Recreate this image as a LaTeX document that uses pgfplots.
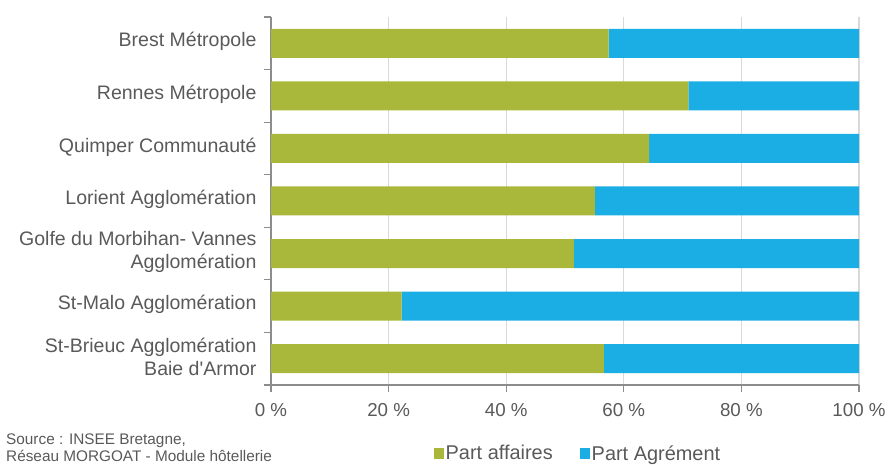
\documentclass[border=0pt]{standalone}
\usepackage{fontspec}
\setmainfont{Liberation Sans}
\usepackage{pgfplots}
\pgfplotsset{compat=1.18}
\definecolor{cgreen}{HTML}{A9B73A}
\definecolor{cblue}{HTML}{1BAEE5}
\definecolor{ctext}{HTML}{595959}
\definecolor{caxis}{HTML}{8C8C8C}
\definecolor{cgrid}{HTML}{D9D9D9}
\begin{document}
\begin{tikzpicture}[x=1bp,y=1bp]
\useasboundingbox (0,0) rectangle (889,466);
\begin{axis}[
  at={(271bp,81bp)}, anchor=south west,
  scale only axis, width=588bp, height=368bp,
  xbar stacked, bar width=29bp,
  xmin=0, xmax=100, ymin=-0.5, ymax=6.5, y dir=reverse,
  axis x line*=bottom, axis y line*=left,
  axis line style={draw=caxis, line width=1.2bp, -},
  tick align=outside, major tick length=7bp,
  tick style={draw=caxis, line width=1.2bp},
  xtick={0,20,40,60,80,100},
  xticklabels={0 \%,20 \%,40 \%,60 \%,80 \%,100 \%},
  xticklabel style={font=\fontsize{18.8}{22}\selectfont, text=ctext, yshift=-8bp},
  xmajorgrids, grid style={cgrid, line width=1.2bp},
  ytick={-0.5,0.5,1.5,2.5,3.5,4.5,5.5,6.5}, yticklabels={},
  extra y ticks={0,1,2,3,4,5,6},
  extra y tick labels={Brest Métropole,Rennes Métropole,Quimper Communauté,Lorient Agglomération,{Golfe du Morbihan- Vannes\\Agglomération},St-Malo Agglomération,{St-Brieuc Agglomération\\Baie d\textquotesingle Armor}},
  extra y tick style={major tick length=0pt, yticklabel style={align=right, font=\fontsize{19.6}{23}\selectfont, text=ctext, xshift=-11bp, yshift=1.5bp}},
  legend columns=2,
  legend style={at={(0.522,-0.186)}, anchor=center, draw=none, fill=none,
    font=\fontsize{20}{22}\selectfont, text=ctext, inner sep=0pt,
    /tikz/every even column/.append style={column sep=25bp}},
  legend image code/.code={\fill[#1, draw=none] (0bp,-6bp) rectangle (10bp,5bp);},
]
\addplot[fill=cgreen, draw=none] coordinates {(57.4,0) (71.0,1) (64.3,2) (55.1,3) (51.5,4) (22.2,5) (56.6,6)};
\addplot[fill=cblue, draw=none] coordinates {(42.6,0) (29.0,1) (35.7,2) (44.9,3) (48.5,4) (77.8,5) (43.4,6)};
\legend{Part affaires, Part Agrément}
\end{axis}
\node[anchor=base west, inner sep=0pt, text=ctext, font=\fontsize{15.4}{18}\selectfont] at (6,21) {Source : INSEE Bretagne,};
\node[anchor=base west, inner sep=0pt, text=ctext, font=\fontsize{15.4}{18}\selectfont] at (6,4) {Réseau MORGOAT - Module hôtellerie};
\end{tikzpicture}
\end{document}
